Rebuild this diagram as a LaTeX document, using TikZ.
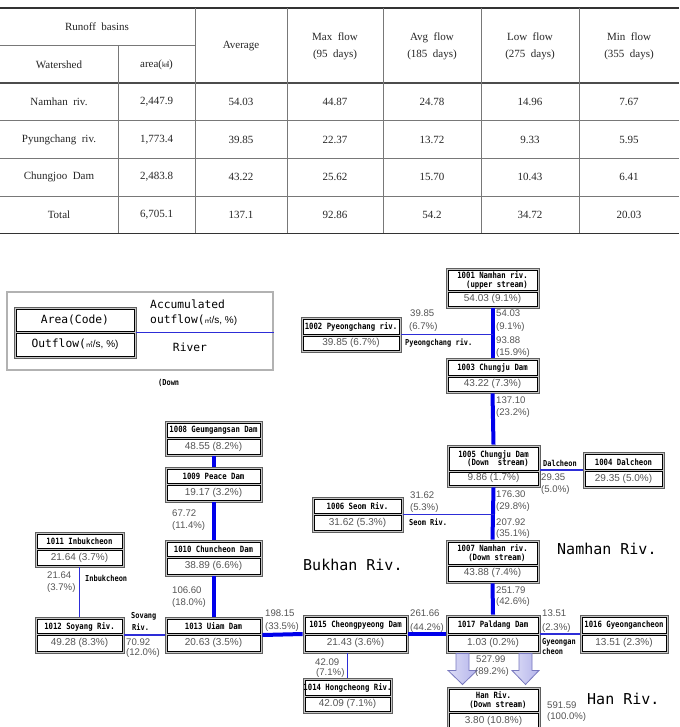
\documentclass[tikz,border=0pt]{standalone}
\usepackage{fontspec}
\setmainfont{Liberation Serif}
\newfontfamily\numf{Liberation Sans}
\newfontfamily\lblf{DejaVu Sans Mono}[FakeStretch=0.85]
\newfontfamily\monof{DejaVu Sans Mono}
\newfontfamily\cjkf{Noto Sans CJK KR}
\usetikzlibrary{calc}
\definecolor{thickblue}{RGB}{0,0,235}
\definecolor{thinblue}{RGB}{45,45,215}
\definecolor{numgray}{RGB}{85,85,85}
\definecolor{tblline}{RGB}{120,120,120}
\definecolor{arrfill}{RGB}{180,180,235}
\definecolor{arrdraw}{RGB}{120,120,190}
\tikzset{
 frame/.style={draw=gray!75!black, fill=gray!45, line width=0.9pt, inner sep=0pt},
 cell/.style={draw=black, fill=white, line width=0.6pt, inner sep=0pt},
 lbl/.style={font=\lblf\bfseries\fontsize{8.6}{8.6}\selectfont, align=center, text=black, inner sep=0pt},
 cnum/.style={font=\numf\fontsize{10}{11}\selectfont, text=numgray, inner sep=0pt},
 gnum/.style={font=\numf\fontsize{9.6}{11.5}\selectfont, text=numgray, anchor=west, inner sep=0pt},
 rlab/.style={font=\lblf\bfseries\fontsize{8.2}{8.5}\selectfont, anchor=west, inner sep=0pt},
 big/.style={font=\monof\fontsize{15}{16}\selectfont, anchor=west, inner sep=0pt},
 lgtext/.style={font=\monof\fontsize{11.3}{12}\selectfont, anchor=west, inner sep=0pt},
 major/.style={draw=thickblue, line width=4pt},
 minor/.style={draw=thinblue, line width=1.6pt},
 tcell/.style={font=\fontsize{11}{17}\selectfont, align=center, text=black!85, inner sep=0pt},
 tline/.style={draw=tblline, line width=0.6pt},
 trule/.style={draw=black!80, line width=1.6pt},
 bigarrow/.style={left color=arrfill!45, right color=arrfill, draw=arrdraw, line width=0.8pt},
}
\newcommand\dambox[8]{%
 \pgfmathsetmacro\dbW{#4-#2}%
 \pgfmathsetmacro\dbH{#6-#3}%
 \pgfmathsetmacro\dbX{(#2+#4)/2}%
 \pgfmathsetmacro\dbY{(#3+#6)/2}%
 \pgfmathsetmacro\dbTa{#3+2.2}%
 \pgfmathsetmacro\dbTb{#5-0.9}%
 \pgfmathsetmacro\dbBa{#5+0.9}%
 \pgfmathsetmacro\dbBb{#6-2.2}%
 \pgfmathsetmacro\dbCW{\dbW-4.4}%
 \pgfmathsetmacro\dbTH{\dbTb-\dbTa}%
 \pgfmathsetmacro\dbBH{\dbBb-\dbBa}%
 \pgfmathsetmacro\dbTY{(\dbTa+\dbTb)/2}%
 \pgfmathsetmacro\dbBY{(\dbBa+\dbBb)/2}%
 \node[frame, minimum width=\dbW pt, minimum height=\dbH pt] (#1) at (\dbX,\dbY) {};
 \node[cell, minimum width=\dbCW pt, minimum height=\dbTH pt] (#1t) at (\dbX,\dbTY) {};
 \node[lbl] (#1tt) at (\dbX,\dbTY) {#7};
 \node[cell, minimum width=\dbCW pt, minimum height=\dbBH pt] (#1b) at (\dbX,\dbBY) {};
 \node[cnum] (#1bt) at (\dbX,\dbBY) {#8};
}
\newcommand\tc[4]{\node[tcell] (#1) at (#2,#3) {#4};}
\begin{document}
\begin{tikzpicture}[x=1pt,y=-1pt]
\useasboundingbox (0,0) rectangle (679,727);
\clip (0,0) rectangle (679,727);
\fill[white] (0,0) rectangle (679,727);

% ---------------- table ----------------
\draw[trule] (0,8.3) -- (679,8.3);
\draw[tline] (0,45.7) -- (195,45.7);
\draw[draw=black!70, line width=2.4pt] (0,83.3) -- (679,83.3);
\draw[tline] (0,120.7) -- (679,120.7);
\draw[tline] (0,158.3) -- (679,158.3);
\draw[tline] (0,196) -- (679,196);
\draw[trule] (0,233.3) -- (679,233.3);
\draw[tline] (118,45.7) -- (118,233.3);
\foreach \xx in {195,287,383,481,579} \draw[tline] (\xx,8.3) -- (\xx,233.3);

\tc{h1}{97}{27}{Runoff\ \ basins}
\tc{h2}{59}{65}{Watershed}
\tc{h3}{156.5}{65}{area({\cjkf\fontsize{7}{7}\selectfont ㎢})}
\tc{h4}{241}{46}{Average}
\tc{h5}{335}{46}{Max\ \ flow\\(95\ \ days)}
\tc{h6}{432}{46}{Avg\ \ flow\\(185\ \ days)}
\tc{h7}{530}{46}{Low\ \ flow\\(275\ \ days)}
\tc{h8}{629}{46}{Min\ \ flow\\(355\ \ days)}

\tc{r1a}{59}{102}{Namhan\ \ riv.}
\tc{r1b}{156.5}{102}{2,447.9}
\tc{r1c}{241}{102}{54.03}
\tc{r1d}{335}{102}{44.87}
\tc{r1e}{432}{102}{24.78}
\tc{r1f}{530}{102}{14.96}
\tc{r1g}{629}{102}{7.67}

\tc{r2a}{59}{139.5}{Pyungchang\ \ riv.}
\tc{r2b}{156.5}{139.5}{1,773.4}
\tc{r2c}{241}{139.5}{39.85}
\tc{r2d}{335}{139.5}{22.37}
\tc{r2e}{432}{139.5}{13.72}
\tc{r2f}{530}{139.5}{9.33}
\tc{r2g}{629}{139.5}{5.95}

\tc{r3a}{59}{177}{Chungjoo\ \ Dam}
\tc{r3b}{156.5}{177}{2,483.8}
\tc{r3c}{241}{177}{43.22}
\tc{r3d}{335}{177}{25.62}
\tc{r3e}{432}{177}{15.70}
\tc{r3f}{530}{177}{10.43}
\tc{r3g}{629}{177}{6.41}

\tc{r4a}{59}{214.5}{Total}
\tc{r4b}{156.5}{214.5}{6,705.1}
\tc{r4c}{241}{214.5}{137.1}
\tc{r4d}{335}{214.5}{92.86}
\tc{r4e}{432}{214.5}{54.2}
\tc{r4f}{530}{214.5}{34.72}
\tc{r4g}{629}{214.5}{20.03}

% ---------------- legend ----------------
\node[draw=gray!60, line width=1.1pt, fill=white, minimum width=266pt, minimum height=78pt, inner sep=0pt] (legend) at (140,331) {};
\dambox{lgb}{14}{307}{136}{332.5}{358}{{\monof\mdseries\fontsize{11.3}{12}\selectfont Area(Code)}}{{\color{black}\monof\fontsize{11.3}{12}\selectfont Outflow(}{\color{black}\cjkf\fontsize{7}{7}\selectfont ㎥}{\color{black}\numf\fontsize{10}{11}\selectfont /s, \%)}}
\draw[minor] (lgb.east) -- (lgb.east -| legend.east);
\node[lgtext] (lgacc) at (150,304) {Accumulated};
\node[lgtext] (lgout) at (150,320) {outflow({\cjkf\fontsize{7}{7}\selectfont ㎥}{\numf\fontsize{10}{11}\selectfont /s, \%)}};
\node[lgtext, anchor=center] (lgriv) at (190,347) {River};
\node[rlab] (down) at (158,383) {(Down};

% ---------------- boxes ----------------
\dambox{b1001}{446}{268}{539}{291.5}{308}{1001 Namhan riv.\\\ \ (upper stream)}{54.03 (9.1\%)}
\dambox{b1002}{301}{317}{401}{335}{352}{1002 Pyeongchang riv.}{39.85 (6.7\%)}
\dambox{b1003}{446}{358}{539}{376.5}{393}{1003 Chungju Dam}{43.22 (7.3\%)}
\dambox{b1005}{447}{445}{540}{471}{487}{1005 Chungju Dam\\\ \ (Down\ \ stream)}{9.86 (1.7\%)}
\dambox{b1004}{583}{452}{664}{470.5}{488}{1004 Dalcheon}{29.35 (5.0\%)}
\dambox{b1006}{312}{497}{403}{514.5}{532}{1006 Seom Riv.}{31.62 (5.3\%)}
\dambox{b1007}{446}{540}{539}{565}{583}{1007 Namhan riv.\\\ \ (Down stream)}{43.88 (7.4\%)}
\dambox{b1008}{165}{421}{262}{438.5}{456}{1008 Geumgangsan Dam}{48.55 (8.2\%)}
\dambox{b1009}{165}{467}{262}{484.5}{502}{1009 Peace Dam}{19.17 (3.2\%)}
\dambox{b1010}{165}{540}{262}{557.5}{576}{1010 Chuncheon Dam}{38.89 (6.6\%)}
\dambox{b1011}{35}{532}{124}{549.5}{567}{1011 Inbukcheon}{21.64 (3.7\%)}
\dambox{b1012}{35}{617}{124}{634.5}{653}{1012 Soyang Riv.}{49.28 (8.3\%)}
\dambox{b1013}{165}{617}{262}{634.5}{653}{1013 Uiam Dam}{20.63 (3.5\%)}
\dambox{b1015}{303}{615}{408}{634}{653}{1015 Cheongpyeong Dam}{21.43 (3.6\%)}
\dambox{b1017}{446}{615}{540}{634}{653}{1017 Paldang Dam}{1.03 (0.2\%)}
\dambox{b1016}{580}{615}{668}{634}{653}{1016 Gyeongancheon}{13.51 (2.3\%)}
\dambox{b1014}{303}{678}{392}{696}{713}{1014 Hongcheong Riv.}{42.09 (7.1\%)}
\dambox{bhan}{447}{687}{540}{712}{731}{Han Riv.\\\ \ (Down stream)}{3.80 (10.8\%)}

% ---------------- connectors ----------------
\draw[major] (b1001.south) -- (b1003.north);
\draw[major] (b1003.south) -- (b1005.north);
\draw[major] (b1005.south) -- (b1007.north);
\draw[major] (b1007.south) -- (b1017.north);
\draw[minor] (b1002.east) -- (b1002.east -| b1001.south);
\draw[minor] (b1004.west -| b1005.east) -- (b1004.west);
\draw[minor] (b1006.east) -- (b1006.east -| b1005.south);
\draw[major] (b1008.south) -- (b1009.north);
\draw[major] (b1009.south) -- (b1010.north);
\draw[major] (b1010.south) -- (b1013.north);
\draw[minor] (b1011.south) -- (b1012.north);
\draw[minor] (b1012.east) -- (b1013.west);
\draw[major] (b1013.east) -- (b1015.west);
\draw[major] (b1015.east) -- (b1017.west);
\draw[minor] (b1017.east) -- (b1016.west);
\draw[minor] (b1014.north) -- (b1014.north |- b1015.south);

% big arrows from Paldang to Han river
\begin{scope}[shift={(b1017.south)}]
 \shadedraw[bigarrow] (-37,0) -- (-24,0) -- (-24,17) -- (-16,17) -- (-30.5,31) -- (-45,17) -- (-37,17) -- cycle;
 \shadedraw[bigarrow] (26,0) -- (39,0) -- (39,17) -- (46,17) -- (32.5,31) -- (19,17) -- (26,17) -- cycle;
\end{scope}

% ---------------- flow labels ----------------
\node[gnum] (l01) at (410,313) {39.85};
\node[gnum] (l02) at (409,327) {(6.7\%)};
\node[gnum] (l03) at (496,313) {54.03};
\node[gnum] (l04) at (496,327) {(9.1\%)};
\node[gnum] (l05) at (496,340) {93.88};
\node[gnum] (l06) at (496,353) {(15.9\%)};
\node[gnum] (l07) at (496,400) {137.10};
\node[gnum] (l08) at (496,413) {(23.2\%)};
\node[gnum] (l09) at (541,477) {29.35};
\node[gnum] (l10) at (541,490) {(5.0\%)};
\node[gnum] (l11) at (496,494) {176.30};
\node[gnum] (l12) at (496,507) {(29.8\%)};
\node[gnum] (l13) at (410,495) {31.62};
\node[gnum] (l14) at (410,508) {(5.3\%)};
\node[gnum] (l15) at (496,522) {207.92};
\node[gnum] (l16) at (496,534) {(35.1\%)};
\node[gnum] (l17) at (496,590) {251.79};
\node[gnum] (l18) at (496,602) {(42.6\%)};
\node[gnum] (l19) at (410,613) {261.66};
\node[gnum] (l20) at (410,628) {(44.2\%)};
\node[gnum] (l21) at (542,613) {13.51};
\node[gnum] (l22) at (542,628) {(2.3\%)};
\node[gnum] (l23) at (265,613) {198.15};
\node[gnum] (l24) at (265,627) {(33.5\%)};
\node[gnum] (l25) at (126,642) {70.92};
\node[gnum] (l26) at (126,653) {(12.0\%)};
\node[gnum] (l27) at (47,575) {21.64};
\node[gnum] (l28) at (47,588) {(3.7\%)};
\node[gnum] (l29) at (172,513) {67.72};
\node[gnum] (l30) at (172,526) {(11.4\%)};
\node[gnum] (l31) at (172,590) {106.60};
\node[gnum] (l32) at (172,603) {(18.0\%)};
\node[gnum] (l33) at (315,662) {42.09};
\node[gnum] (l34) at (316,673) {(7.1\%)};
\node[gnum] (l35) at (476,659) {527.99};
\node[gnum] (l36) at (475,672) {(89.2\%)};
\node[gnum] (l37) at (547,705) {591.59};
\node[gnum] (l38) at (547,717) {(100.0\%)};

% river names
\node[rlab] (n01) at (405,343) {Pyeongchang riv.};
\node[rlab] (n02) at (543,463) {Dalcheon};
\node[rlab] (n03) at (409,522) {Seom Riv.};
\node[rlab] (n04) at (85,578) {Inbukcheon};
\node[rlab] (n05) at (131,616) {Sovang};
\node[rlab] (n06) at (132,627) {Riv.};
\node[rlab] (n07) at (542,642) {Gyeongan};
\node[rlab] (n08) at (542,651) {cheon};

% big titles
\node[big] (t1) at (557,549) {Namhan Riv.};
\node[big] (t2) at (303,565) {Bukhan Riv.};
\node[big] (t3) at (587,699) {Han Riv.};
\end{tikzpicture}
\end{document}
